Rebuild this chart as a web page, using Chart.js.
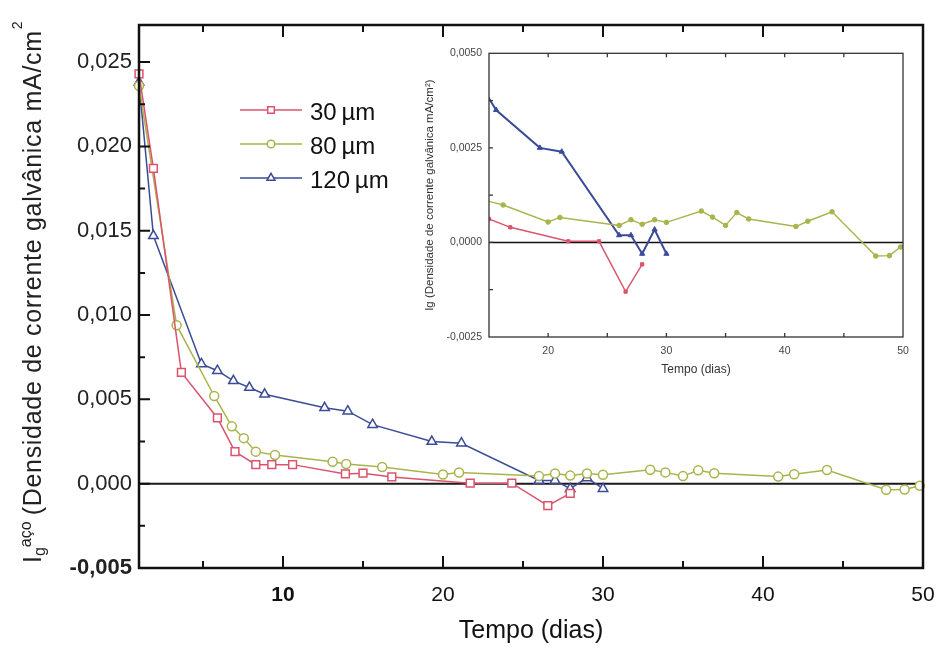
<!DOCTYPE html>
<html lang="pt">
<head>
<meta charset="utf-8">
<title>Densidade de corrente galvânica</title>
<script src="https://cdn.jsdelivr.net/npm/chart.js@4.4.1/dist/chart.umd.min.js"></script>
<style>
  html, body { margin: 0; padding: 0; background: #fff; }
  #caixa { position: relative; width: 944px; height: 649px; }
  #grafico { position: absolute; left: 0; top: 0; }
  #detalhe { position: absolute; left: 415px; top: 40px; }
</style>
</head>
<body>
<div id="caixa">
  <canvas id="grafico" width="944" height="649"></canvas>
  <canvas id="detalhe" width="500" height="345"></canvas>
</div>
<script>
// tempo (dias) e densidade de corrente galvanica (mA/cm2) de cada espessura
var dias30 = [1.0, 1.9, 3.65, 5.9, 7.0, 8.3, 9.3, 10.6, 13.9, 15.0, 16.8, 21.7, 24.3, 26.55, 27.95];
var ig30   = [0.0243, 0.0187, 0.0066, 0.0039, 0.0019, 0.00113, 0.00113, 0.00113, 0.00058, 0.00062, 0.0004, 0.00003, 0.00003, -0.0013, -0.00058];

var dias80 = [1.0, 3.35, 5.7, 6.8, 7.55, 8.3, 9.5, 13.1, 13.95, 16.2, 20.0, 21.0, 26.0, 27.0, 27.95, 29.0, 30.0, 32.95, 33.9, 35.0, 35.95, 36.95, 40.95, 41.95, 44.0, 47.7, 48.85, 49.8];
var ig80   = [0.0236, 0.0094, 0.0052, 0.0034, 0.0027, 0.0019, 0.0017, 0.0013, 0.00117, 0.00099, 0.00054, 0.00066, 0.00045, 0.0006, 0.00048, 0.0006, 0.00053, 0.00083, 0.00067, 0.00045, 0.00079, 0.00062, 0.00042, 0.00056, 0.00081, -0.00036, -0.00035, -0.00012];

var dias120 = [1.0, 1.9, 4.9, 5.9, 6.9, 7.9, 8.85, 12.6, 14.05, 15.6, 19.3, 21.15, 26.0, 27.0, 27.95, 29.0, 30.0];
var ig120   = [0.0238, 0.0147, 0.0071, 0.0067, 0.0061, 0.0057, 0.0053, 0.0045, 0.0043, 0.0035, 0.0025, 0.0024, 0.00019, 0.00019, -0.0003, 0.00034, -0.0003];

var nomes = ['30\u2009µm', '80\u2009µm', '120\u2009µm'];
var xTicks = [10, 20, 30, 40, 50];
var yTicks = [-0.005, 0, 0.005, 0.010, 0.015, 0.020, 0.025];
var xTicksDetalhe = [20, 30, 40, 50];
var yTicksDetalhe = [-0.0025, 0, 0.0025, 0.005];

var diasSerie = [dias30, dias80, dias120];
var igSerie = [ig30, ig80, ig120];
var cores = ['#d9546c', '#a9b44c', '#3b4b98'];
var marcadores = ['rect', 'circle', 'triangle'];
var raios = [5.5, 4.5, 5.5];

var fonte = "'Liberation Sans', Arial, Helvetica, sans-serif";
Chart.defaults.font.family = fonte;
Chart.defaults.color = '#222';

function pontos(xs, ys) {
    return xs.map(function (d, i) { return {x: d, y: ys[i]}; });
}
function virgula(v, casas) {
    return v.toFixed(casas).replace('.', ',');
}

// moldura, marcas internas e linha do zero do grafico principal
var moldura = {
    id: 'moldura',
    beforeDatasetsDraw(chart) {
        var ctx = chart.ctx, a = chart.chartArea;
        var y0 = chart.scales.y.getPixelForValue(0);
        ctx.save();
        ctx.strokeStyle = '#1a1a1a';
        ctx.lineWidth = 2;
        ctx.beginPath();
        ctx.moveTo(a.left, y0);
        ctx.lineTo(a.right, y0);
        ctx.stroke();
        ctx.restore();
    },
    afterDraw(chart) {
        var ctx = chart.ctx, a = chart.chartArea;
        var x = chart.scales.x, y = chart.scales.y;
        ctx.save();
        ctx.strokeStyle = '#111';
        ctx.lineWidth = 2.5;
        ctx.strokeRect(a.left, a.top, a.right - a.left, a.bottom - a.top);
        ctx.lineWidth = 2;
        ctx.beginPath();
        for (var v = 5; v < 50; v += 5) {
            var px = x.getPixelForValue(v);
            var len = v % 10 === 0 ? 12 : 7;
            ctx.moveTo(px, a.bottom); ctx.lineTo(px, a.bottom - len);
            ctx.moveTo(px, a.top); ctx.lineTo(px, a.top + len);
        }
        for (var k = -1; k <= 10; k++) {
            var py = y.getPixelForValue(k * 0.0025);
            var l = k % 2 === 0 ? 11 : 6;
            ctx.moveTo(a.left, py); ctx.lineTo(a.left + l, py);
        }
        ctx.stroke();
        ctx.restore();
    }
};

// titulo do eixo y com indice e expoente
var tituloY = {
    id: 'tituloY',
    afterDraw(chart) {
        var ctx = chart.ctx;
        var texto = '(Densidade de corrente galvânica mA/cm';
        ctx.save();
        ctx.translate(41, 563);
        ctx.rotate(-Math.PI / 2);
        ctx.fillStyle = '#222';
        ctx.textAlign = 'left';
        ctx.textBaseline = 'alphabetic';
        var pos = 0;
        ctx.font = '25px ' + fonte;
        ctx.fillText('I', pos, 0);
        pos += ctx.measureText('I').width;
        ctx.font = '16px ' + fonte;
        ctx.fillText('g', pos, 4);
        pos += ctx.measureText('g').width;
        ctx.fillText('aço', pos, -10);
        pos += ctx.measureText('aço').width + 6;
        ctx.font = '25px ' + fonte;
        ctx.letterSpacing = '0.7px';
        ctx.fillText(texto, pos, 0);
        pos += ctx.measureText(texto).width;
        ctx.letterSpacing = '0px';
        ctx.font = '14px ' + fonte;
        ctx.fillText('2', pos + 1, -19);
        ctx.restore();
    }
};

// legenda com linha e marcador
var legenda = {
    id: 'legenda',
    afterDraw(chart) {
        var ctx = chart.ctx;
        var linhas = [110, 144, 178];
        ctx.save();
        chart.data.datasets.forEach(function (ds, i) {
            var ly = linhas[i];
            ctx.strokeStyle = ds.borderColor;
            ctx.lineWidth = 1.5;
            ctx.beginPath();
            ctx.moveTo(240, ly);
            ctx.lineTo(302, ly);
            ctx.stroke();
            ctx.fillStyle = '#fff';
            Chart.helpers.drawPoint(ctx, {pointStyle: ds.pointStyle, radius: ds.pointRadius * 0.85, borderWidth: 1.5, rotation: 0}, 271, ly);
            ctx.fillStyle = '#111';
            ctx.font = '24px ' + fonte;
            ctx.textBaseline = 'middle';
            ctx.fillText(ds.label, 310, ly + 3);
        });
        ctx.restore();
    }
};

new Chart(document.getElementById('grafico'), {
    type: 'line',
    data: {
        datasets: nomes.map(function (nome, i) {
            return {
                label: nome,
                data: pontos(diasSerie[i], igSerie[i]),
                borderColor: cores[i],
                borderWidth: 1.5,
                pointStyle: marcadores[i],
                pointRadius: raios[i],
                pointBorderWidth: 1.5,
                pointBorderColor: cores[i],
                pointBackgroundColor: '#fff',
                tension: 0,
                clip: false
            };
        })
    },
    options: {
        responsive: false,
        animation: false,
        devicePixelRatio: 1,
        layout: {padding: {left: 0, right: 21, top: 25, bottom: 0}},
        plugins: {legend: {display: false}, tooltip: {enabled: false}},
        scales: {
            x: {
                type: 'linear', min: 1, max: 50,
                grid: {display: false, drawTicks: false},
                border: {display: false},
                afterBuildTicks: function (s) { s.ticks = xTicks.map(function (v) { return {value: v}; }); },
                afterFit: function (s) { s.height = 81; s.paddingLeft = 0; s.paddingRight = 0; },
                ticks: {
                    padding: 15, color: '#111',
                    font: function (c) { return {size: 21, family: fonte, weight: c.tick && c.tick.value === 10 ? 'bold' : 'normal'}; }
                },
                title: {display: true, text: 'Tempo (dias)', color: '#111', font: {size: 25}, padding: {top: 0, bottom: 3}}
            },
            y: {
                min: -0.005, max: 0.0272,
                grid: {display: false, drawTicks: false},
                border: {display: false},
                afterBuildTicks: function (s) { s.ticks = yTicks.map(function (v) { return {value: v}; }); },
                afterFit: function (s) { s.width = 139; },
                ticks: {
                    padding: 7, color: '#222',
                    font: function (c) { return {size: 22, family: fonte, weight: c.tick && c.tick.value < 0 ? 'bold' : 'normal'}; },
                    callback: function (v) { return virgula(v, 3); }
                }
            }
        }
    },
    plugins: [moldura, tituloY, legenda]
});

// detalhe entre 15 e 50 dias
var molduraDetalhe = {
    id: 'molduraDetalhe',
    beforeDatasetsDraw(chart) {
        var ctx = chart.ctx, a = chart.chartArea;
        var y0 = chart.scales.y.getPixelForValue(0);
        ctx.save();
        ctx.strokeStyle = '#111';
        ctx.lineWidth = 1.5;
        ctx.beginPath();
        ctx.moveTo(a.left, y0);
        ctx.lineTo(a.right, y0);
        ctx.stroke();
        ctx.restore();
    },
    afterDraw(chart) {
        var ctx = chart.ctx, a = chart.chartArea;
        var x = chart.scales.x, y = chart.scales.y;
        ctx.save();
        ctx.strokeStyle = '#333';
        ctx.lineWidth = 1.3;
        ctx.strokeRect(a.left, a.top, a.right - a.left, a.bottom - a.top);
        ctx.beginPath();
        for (var v = 20; v < 50; v += 5) {
            var px = x.getPixelForValue(v);
            ctx.moveTo(px, a.bottom); ctx.lineTo(px, a.bottom - 4);
            ctx.moveTo(px, a.top); ctx.lineTo(px, a.top + 4);
        }
        for (var k = -1; k <= 3; k++) {
            var py = y.getPixelForValue(k * 0.00125);
            ctx.moveTo(a.left, py); ctx.lineTo(a.left + 4, py);
        }
        ctx.stroke();
        ctx.restore();
    }
};

new Chart(document.getElementById('detalhe'), {
    type: 'line',
    data: {
        datasets: nomes.map(function (nome, i) {
            return {
                label: nome,
                data: pontos(diasSerie[i], igSerie[i]),
                borderColor: cores[i],
                borderWidth: i === 2 ? 2 : 1.4,
                pointStyle: marcadores[i],
                pointRadius: i === 2 ? 3 : 2.3,
                pointBorderWidth: 1,
                pointBorderColor: cores[i],
                pointBackgroundColor: cores[i],
                tension: 0
            };
        })
    },
    options: {
        responsive: false,
        animation: false,
        devicePixelRatio: 1,
        layout: {padding: {left: 0, right: 12, top: 11, bottom: 0}},
        plugins: {legend: {display: false}, tooltip: {enabled: false}},
        scales: {
            x: {
                type: 'linear', min: 15, max: 50,
                grid: {display: false, drawTicks: false},
                border: {display: false},
                afterBuildTicks: function (s) { s.ticks = xTicksDetalhe.map(function (v) { return {value: v}; }); },
                afterFit: function (s) { s.height = 48; s.paddingLeft = 0; s.paddingRight = 0; },
                ticks: {padding: 8, color: '#444', font: {size: 10.5}},
                title: {display: true, text: 'Tempo (dias)', color: '#333', font: {size: 12}, padding: {top: 0, bottom: 8}}
            },
            y: {
                min: -0.0025, max: 0.005,
                grid: {display: false, drawTicks: false},
                border: {display: false},
                afterBuildTicks: function (s) { s.ticks = yTicksDetalhe.map(function (v) { return {value: v}; }); },
                afterFit: function (s) { s.width = 74; },
                ticks: {padding: 7, color: '#444', font: {size: 10.5}, callback: function (v) { return virgula(v, 4); }},
                title: {display: true, text: 'Ig (Densidade de corrente galvânica mA/cm²)', color: '#333', font: {size: 11.5}, padding: {top: 8, bottom: 0}}
            }
        }
    },
    plugins: [molduraDetalhe]
});
</script>
</body>
</html>
